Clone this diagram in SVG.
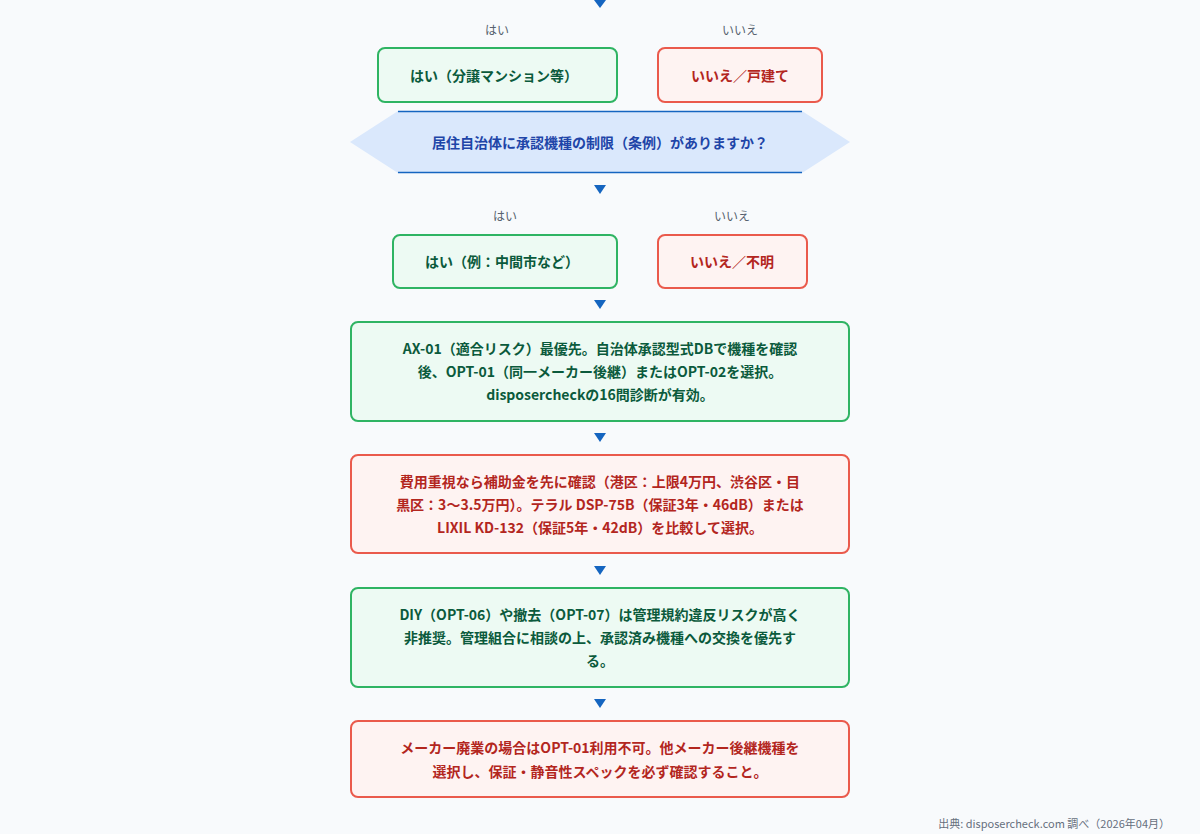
<svg xmlns="http://www.w3.org/2000/svg" width="1200" height="834" viewBox="0 0 1200 834">
<style>
text{font-family:"Noto Sans CJK JP","Liberation Sans",sans-serif;}
.g rect{fill:#edfaf3;stroke:#2fb463;stroke-width:2}
.r rect{fill:#fef3f2;stroke:#ea5a4c;stroke-width:2}
.g text{fill:#0b5a3c;font-size:14px;font-weight:bold;text-anchor:middle;dominant-baseline:central}
.r text{fill:#b3261e;font-size:14px;font-weight:bold;text-anchor:middle;dominant-baseline:central}
.lbl{fill:#555f6e;font-size:12px;text-anchor:middle;dominant-baseline:central}
.arr{fill:#1565c0}
</style>
<rect width="1200" height="834" fill="#f8fafc"/>
<g id="connectors">
<path class="arr" d="M594,0h12l-6,8z"/>
<path class="arr" d="M594,185h12l-6,9z"/>
<path class="arr" d="M594,300h12l-6,9z"/>
<path class="arr" d="M594,433h12l-6,9z"/>
<path class="arr" d="M594,566h12l-6,9z"/>
<path class="arr" d="M594,699h12l-6,9z"/>
<text class="lbl" x="497" y="29">はい</text>
<text class="lbl" x="740" y="29">いいえ</text>
<text class="lbl" x="505" y="215">はい</text>
<text class="lbl" x="732" y="215">いいえ</text>
</g>
<g id="n1" class="g"><rect x="378" y="48" width="239" height="54" rx="7"/><text x="494" y="75">はい（分譲マンション等）</text></g>
<g id="n2" class="r"><rect x="658" y="48" width="164" height="54" rx="7"/><text x="740" y="75">いいえ／戸建て</text></g>
<g id="q1">
<polygon points="350,142 398,111 802,111 850,142 802,173 398,173" fill="#dae8fc"/>
<line x1="398" y1="111.5" x2="802" y2="111.5" stroke="#1565c0" stroke-width="1.5"/>
<line x1="398" y1="172.5" x2="802" y2="172.5" stroke="#1565c0" stroke-width="1.5"/>
<text x="600" y="142" fill="#1e45a8" font-size="14" font-weight="bold" text-anchor="middle" dominant-baseline="central">居住自治体に承認機種の制限（条例）がありますか？</text>
</g>
<g id="n3" class="g"><rect x="393" y="235" width="224" height="53" rx="7"/><text x="502" y="261">はい（例：中間市など）</text></g>
<g id="n4" class="r"><rect x="658" y="235" width="149" height="53" rx="7"/><text x="732" y="261">いいえ／不明</text></g>
<g id="n5" class="g"><rect x="351" y="322" width="498" height="99" rx="7"/>
<text x="600" y="348">AX-01（適合リスク）最優先。自治体承認型式DBで機種を確認</text>
<text x="600" y="371">後、OPT-01（同一メーカー後継）またはOPT-02を選択。</text>
<text x="600" y="394">disposercheckの16問診断が有効。</text></g>
<g id="n6" class="r"><rect x="351" y="455" width="498" height="98" rx="7"/>
<text x="600" y="481">費用重視なら補助金を先に確認（港区：上限4万円、渋谷区・目</text>
<text x="600" y="504">黒区：3〜3.5万円）。テラル DSP-75B（保証3年・46dB）または</text>
<text x="600" y="527">LIXIL KD-132（保証5年・42dB）を比較して選択。</text></g>
<g id="n7" class="g"><rect x="351" y="588" width="498" height="99" rx="7"/>
<text x="600" y="614">DIY（OPT-06）や撤去（OPT-07）は管理規約違反リスクが高く</text>
<text x="600" y="637">非推奨。管理組合に相談の上、承認済み機種への交換を優先す</text>
<text x="600" y="660">る。</text></g>
<g id="n8" class="r"><rect x="351" y="721" width="498" height="76" rx="7"/>
<text x="600" y="747">メーカー廃業の場合はOPT-01利用不可。他メーカー後継機種を</text>
<text x="600" y="771">選択し、保証・静音性スペックを必ず確認すること。</text></g>
<text x="1170" y="823" fill="#666f7d" font-size="11" text-anchor="end" dominant-baseline="central">出典: disposercheck.com 調べ（2026年04月）</text>
</svg>
